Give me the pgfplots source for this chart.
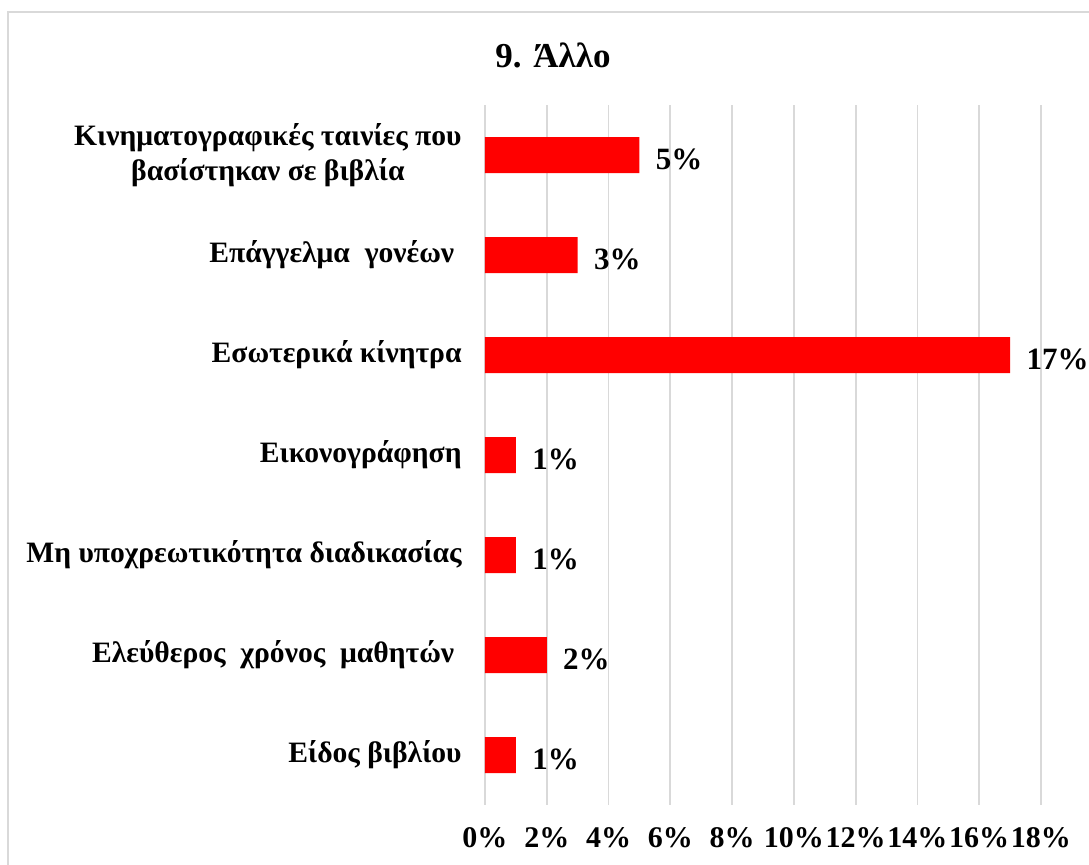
\documentclass[border=0pt]{standalone}
\usepackage{fontspec}
\setmainfont{Liberation Serif}
\usepackage{pgfplots}
\pgfplotsset{compat=1.18}
\definecolor{gridgray}{RGB}{217,217,217}
\definecolor{barred}{RGB}{255,0,0}
\begin{document}
\begin{tikzpicture}
\path[use as bounding box] (0,0) rectangle (544.5pt,-432.5pt);
\draw[gridgray, line width=0.9pt] (4pt,-440pt) -- (4pt,-6pt) -- (550pt,-6pt);
\node[font=\bfseries\fontsize{17.5}{20}\selectfont] at (276.5pt,-27.5pt) {9. Άλλο};
\begin{axis}[
    at={(242.5pt,-402.5pt)}, anchor=south west,
    scale only axis, width=278pt, height=350pt,
    xbar, bar width=18pt,
    xmin=0, xmax=18, ymin=-0.5, ymax=6.5,
    y dir=reverse,
    xtick={0,2,...,18},
    ytick={0,...,6},
    yticklabels={{Κινηματογραφικές ταινίες που\\βασίστηκαν σε βιβλία},
        {Επάγγελμα\ \ γονέων\ },
        {Εσωτερικά κίνητρα},
        {Εικονογράφηση},
        {Μη υποχρεωτικότητα διαδικασίας},
        {Ελεύθερος\ \ χρόνος\ \ μαθητών\ },
        {Είδος βιβλίου}},
    /pgf/number format/assume math mode=true,
    xticklabel={\pgfmathprintnumber{\tick}\%},
    xmajorgrids, grid style={gridgray, line width=0.9pt},
    axis line style={draw=none},
    major tick length=0pt,
    xticklabel style={font=\bfseries\fontsize{15}{17}\selectfont, anchor=north, inner sep=0pt, yshift=-11pt},
    yticklabel style={font=\bfseries\fontsize{14.8}{17.5}\selectfont, align=center, anchor=east, inner sep=0pt, xshift=-11.5pt},
    nodes near coords={\pgfmathprintnumber{\pgfplotspointmeta}\%},
    nodes near coords style={font=\bfseries\fontsize{15.5}{18}\selectfont, anchor=west, inner sep=0pt, xshift=8pt, yshift=-2pt},
]
\addplot[fill=barred, draw=none] coordinates {
    (5,0)
    (3,1)
    (17,2)
    (1,3)
    (1,4)
    (2,5)
    (1,6)
};
\end{axis}
\end{tikzpicture}
\end{document}
